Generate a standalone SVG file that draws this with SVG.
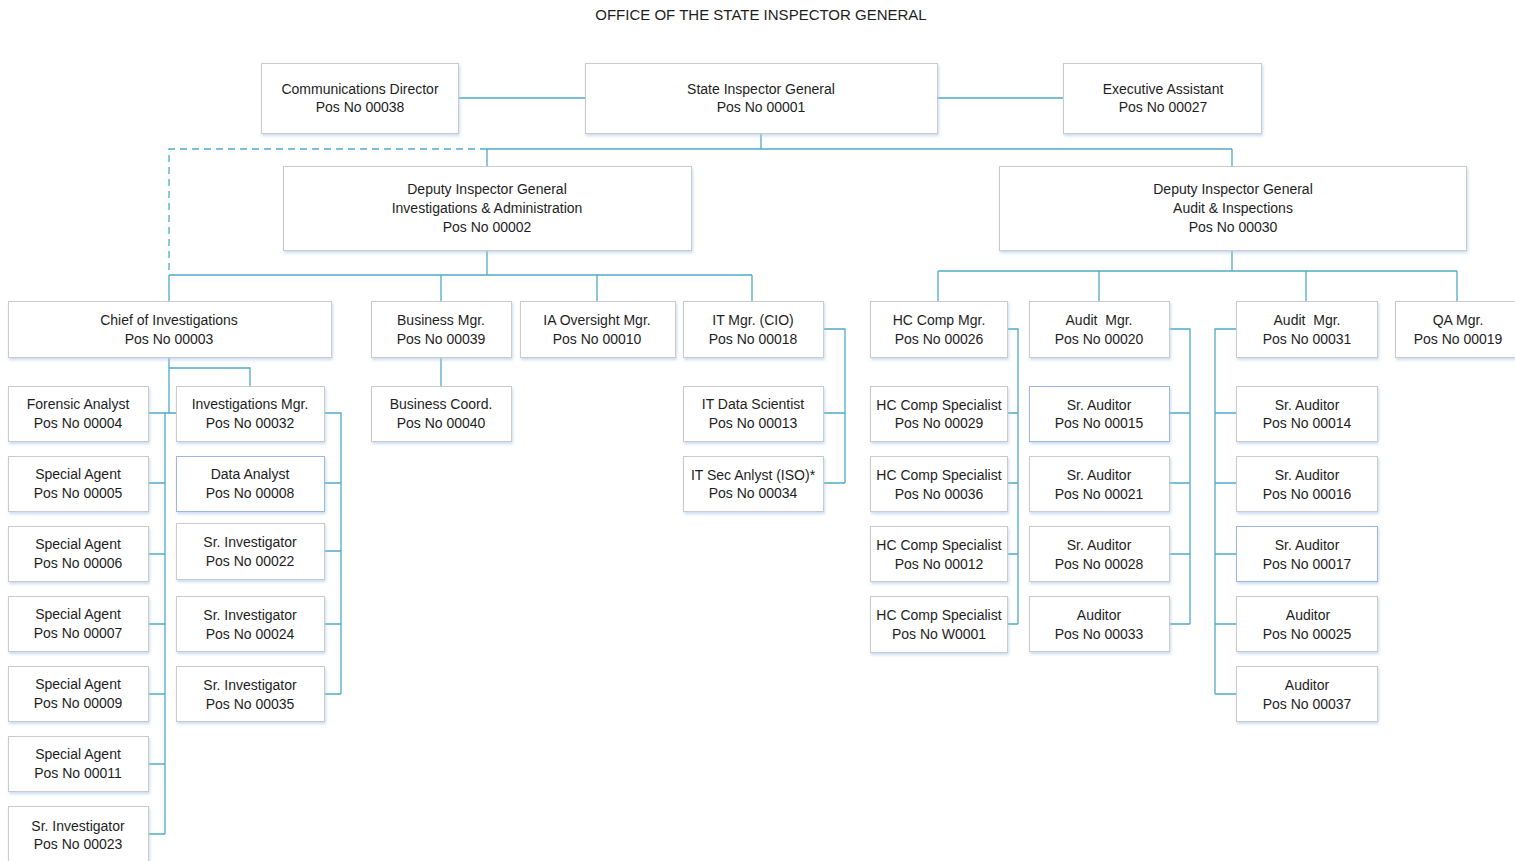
<svg xmlns="http://www.w3.org/2000/svg" width="1515" height="861" viewBox="0 0 1515 861">
<style>
.box{fill:#ffffff;stroke:#cbcbcb;stroke-width:1;filter:url(#sh)}
.blue{stroke:#9db6e2}
.t{font-family:"Liberation Sans",Arial,sans-serif;font-size:14px;fill:#1e1e1e;text-anchor:middle}
.title{font-family:"Liberation Sans",Arial,sans-serif;font-size:15px;fill:#1e1e1e;text-anchor:middle}
.c{stroke:#4faac8;stroke-width:1.3;fill:none}
.d{stroke-dasharray:7 5}
</style>
<defs>
<filter id="sh" x="-5%" y="-10%" width="115%" height="130%">
<feDropShadow dx="1" dy="2" stdDeviation="1.5" flood-color="#a9c4e8" flood-opacity="0.6"/>
</filter>
</defs>
<rect width="1515" height="861" fill="#ffffff"/>
<text class="title" x="761" y="20">OFFICE OF THE STATE INSPECTOR GENERAL</text>

<g id="connectors">
<path class="c" d="M458,98H585M937,98H1063"/>
<path class="c" d="M761,133V149M487,149H1232M487,149V166M1232,149V166"/>
<path class="c d" d="M487,149H169V275"/>
<path class="c" d="M487,250V275M169,275H752M169,275V301M441,275V301M597,275V301M752,275V301"/>
<path class="c" d="M1232,250V271M938,271H1457M938,271V301M1099,271V301M1306,271V301M1457,271V301"/>
<path class="c" d="M169,357V413M169,368H250V386M148,413H176M165,413V834M148,483H165M148,554H165M148,624H165M148,694H165M148,764H165M148,834H165"/>
<path class="c" d="M324,413H341V694M324,483H341M324,551H341M324,624H341M324,694H341"/>
<path class="c" d="M441,357V386"/>
<path class="c" d="M823,329H845V483M823,413H845M823,483H845"/>
<path class="c" d="M1007,329H1018V624M1007,413H1018M1007,483H1018M1007,554H1018M1007,624H1018"/>
<path class="c" d="M1169,329H1190V624M1169,413H1190M1169,483H1190M1169,554H1190M1169,624H1190"/>
<path class="c" d="M1236,329H1215V694M1236,413H1215M1236,483H1215M1236,554H1215M1236,624H1215M1236,694H1215"/>
</g>

<g id="n_comm"><rect class="box" x="261.5" y="63.5" width="197" height="70"/><text class="t" x="360" y="94">Communications Director</text><text class="t" x="360" y="112">Pos No 00038</text></g>
<g id="n_sig"><rect class="box" x="585.5" y="63.5" width="352" height="70"/><text class="t" x="761" y="94">State Inspector General</text><text class="t" x="761" y="112">Pos No 00001</text></g>
<g id="n_exec"><rect class="box" x="1063.5" y="63.5" width="198" height="70"/><text class="t" x="1163" y="94">Executive Assistant</text><text class="t" x="1163" y="112">Pos No 00027</text></g>

<g id="n_dig1"><rect class="box" x="283.5" y="166.5" width="408" height="84"/><text class="t" x="487" y="194">Deputy Inspector General</text><text class="t" x="487" y="213">Investigations &amp; Administration</text><text class="t" x="487" y="232">Pos No 00002</text></g>
<g id="n_dig2"><rect class="box" x="999.5" y="166.5" width="467" height="84"/><text class="t" x="1233" y="194">Deputy Inspector General</text><text class="t" x="1233" y="213">Audit &amp; Inspections</text><text class="t" x="1233" y="232">Pos No 00030</text></g>

<g id="n_chief"><rect class="box" x="8.5" y="301.5" width="323" height="56"/><text class="t" x="169" y="325">Chief of Investigations</text><text class="t" x="169" y="344">Pos No 00003</text></g>
<g id="n_bm"><rect class="box" x="371.5" y="301.5" width="140" height="56"/><text class="t" x="441" y="325">Business Mgr.</text><text class="t" x="441" y="344">Pos No 00039</text></g>
<g id="n_ia"><rect class="box" x="520.5" y="301.5" width="155" height="56"/><text class="t" x="597" y="325">IA Oversight Mgr.</text><text class="t" x="597" y="344">Pos No 00010</text></g>
<g id="n_it"><rect class="box" x="683.5" y="301.5" width="140" height="56"/><text class="t" x="753" y="325">IT Mgr. (CIO)</text><text class="t" x="753" y="344">Pos No 00018</text></g>
<g id="n_hc"><rect class="box" x="870.5" y="301.5" width="137" height="56"/><text class="t" x="939" y="325">HC Comp Mgr.</text><text class="t" x="939" y="344">Pos No 00026</text></g>
<g id="n_am20"><rect class="box" x="1029.5" y="301.5" width="140" height="56"/><text class="t" x="1099" y="325" xml:space="preserve">Audit  Mgr.</text><text class="t" x="1099" y="344">Pos No 00020</text></g>
<g id="n_am31"><rect class="box" x="1236.5" y="301.5" width="141" height="56"/><text class="t" x="1307" y="325" xml:space="preserve">Audit  Mgr.</text><text class="t" x="1307" y="344">Pos No 00031</text></g>
<g id="n_qa"><rect class="box" x="1395.5" y="301.5" width="126" height="56"/><text class="t" x="1458" y="325">QA Mgr.</text><text class="t" x="1458" y="344">Pos No 00019</text></g>

<g id="n_fa"><rect class="box" x="8.5" y="386.5" width="140" height="55"/><text class="t" x="78" y="409">Forensic Analyst</text><text class="t" x="78" y="428">Pos No 00004</text></g>
<g id="n_sa5"><rect class="box" x="8.5" y="456.5" width="140" height="55"/><text class="t" x="78" y="479">Special Agent</text><text class="t" x="78" y="498">Pos No 00005</text></g>
<g id="n_sa6"><rect class="box" x="8.5" y="526.5" width="140" height="55"/><text class="t" x="78" y="549">Special Agent</text><text class="t" x="78" y="568">Pos No 00006</text></g>
<g id="n_sa7"><rect class="box" x="8.5" y="596.5" width="140" height="55"/><text class="t" x="78" y="619">Special Agent</text><text class="t" x="78" y="638">Pos No 00007</text></g>
<g id="n_sa9"><rect class="box" x="8.5" y="666.5" width="140" height="55"/><text class="t" x="78" y="689">Special Agent</text><text class="t" x="78" y="708">Pos No 00009</text></g>
<g id="n_sa11"><rect class="box" x="8.5" y="736.5" width="140" height="55"/><text class="t" x="78" y="759">Special Agent</text><text class="t" x="78" y="778">Pos No 00011</text></g>
<g id="n_si23"><rect class="box" x="8.5" y="806.5" width="140" height="60"/><text class="t" x="78" y="831">Sr. Investigator</text><text class="t" x="78" y="849">Pos No 00023</text></g>

<g id="n_im"><rect class="box" x="176.5" y="386.5" width="148" height="55"/><text class="t" x="250" y="409">Investigations Mgr.</text><text class="t" x="250" y="428">Pos No 00032</text></g>
<g id="n_da"><rect class="box blue" x="176.5" y="456.5" width="148" height="55"/><text class="t" x="250" y="479">Data Analyst</text><text class="t" x="250" y="498">Pos No 00008</text></g>
<g id="n_si22"><rect class="box" x="176.5" y="523.5" width="148" height="56"/><text class="t" x="250" y="547">Sr. Investigator</text><text class="t" x="250" y="566">Pos No 00022</text></g>
<g id="n_si24"><rect class="box" x="176.5" y="596.5" width="148" height="55"/><text class="t" x="250" y="620">Sr. Investigator</text><text class="t" x="250" y="639">Pos No 00024</text></g>
<g id="n_si35"><rect class="box" x="176.5" y="666.5" width="148" height="55"/><text class="t" x="250" y="690">Sr. Investigator</text><text class="t" x="250" y="709">Pos No 00035</text></g>

<g id="n_bc"><rect class="box" x="371.5" y="386.5" width="140" height="55"/><text class="t" x="441" y="409">Business Coord.</text><text class="t" x="441" y="428">Pos No 00040</text></g>

<g id="n_itds"><rect class="box" x="683.5" y="386.5" width="140" height="55"/><text class="t" x="753" y="409">IT Data Scientist</text><text class="t" x="753" y="428">Pos No 00013</text></g>
<g id="n_itsec"><rect class="box" x="683.5" y="456.5" width="140" height="55"/><text class="t" x="753" y="480">IT Sec Anlyst (ISO)*</text><text class="t" x="753" y="498">Pos No 00034</text></g>

<g id="n_hc29"><rect class="box" x="870.5" y="386.5" width="137" height="55"/><text class="t" x="939" y="410">HC Comp Specialist</text><text class="t" x="939" y="428">Pos No 00029</text></g>
<g id="n_hc36"><rect class="box" x="870.5" y="456.5" width="137" height="55"/><text class="t" x="939" y="480">HC Comp Specialist</text><text class="t" x="939" y="499">Pos No 00036</text></g>
<g id="n_hc12"><rect class="box" x="870.5" y="526.5" width="137" height="55"/><text class="t" x="939" y="550">HC Comp Specialist</text><text class="t" x="939" y="569">Pos No 00012</text></g>
<g id="n_hcw1"><rect class="box" x="870.5" y="596.5" width="137" height="56"/><text class="t" x="939" y="620">HC Comp Specialist</text><text class="t" x="939" y="639">Pos No W0001</text></g>

<g id="n_sa15"><rect class="box blue" x="1029.5" y="386.5" width="140" height="55"/><text class="t" x="1099" y="410">Sr. Auditor</text><text class="t" x="1099" y="428">Pos No 00015</text></g>
<g id="n_sa21"><rect class="box" x="1029.5" y="456.5" width="140" height="55"/><text class="t" x="1099" y="480">Sr. Auditor</text><text class="t" x="1099" y="499">Pos No 00021</text></g>
<g id="n_sa28"><rect class="box" x="1029.5" y="526.5" width="140" height="55"/><text class="t" x="1099" y="550">Sr. Auditor</text><text class="t" x="1099" y="569">Pos No 00028</text></g>
<g id="n_a33"><rect class="box" x="1029.5" y="596.5" width="140" height="55"/><text class="t" x="1099" y="620">Auditor</text><text class="t" x="1099" y="639">Pos No 00033</text></g>

<g id="n_sa14"><rect class="box" x="1236.5" y="386.5" width="141" height="55"/><text class="t" x="1307" y="410">Sr. Auditor</text><text class="t" x="1307" y="428">Pos No 00014</text></g>
<g id="n_sa16"><rect class="box" x="1236.5" y="456.5" width="141" height="55"/><text class="t" x="1307" y="480">Sr. Auditor</text><text class="t" x="1307" y="499">Pos No 00016</text></g>
<g id="n_sa17"><rect class="box blue" x="1236.5" y="526.5" width="141" height="55"/><text class="t" x="1307" y="550">Sr. Auditor</text><text class="t" x="1307" y="569">Pos No 00017</text></g>
<g id="n_a25"><rect class="box" x="1236.5" y="596.5" width="141" height="55"/><text class="t" x="1308" y="620">Auditor</text><text class="t" x="1307" y="639">Pos No 00025</text></g>
<g id="n_a37"><rect class="box" x="1236.5" y="666.5" width="141" height="55"/><text class="t" x="1307" y="690">Auditor</text><text class="t" x="1307" y="709">Pos No 00037</text></g>
</svg>
